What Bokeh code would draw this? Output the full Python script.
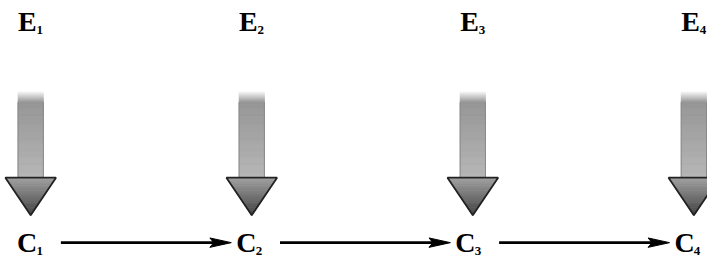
from bokeh.plotting import figure
from bokeh.models import Range1d
from bokeh.core.properties import value
from bokeh.embed import file_html
from bokeh.resources import INLINE

# ---- diagram content ----
effect_labels = ["E", "E", "E", "E"]
state_labels = ["C", "C", "C", "C"]
subscripts = ["1", "2", "3", "4"]

# ---- layout parameters ----
X0, STEP = 31, 227          # centres of the four columns
SHAFT_TOP, SHAFT_BOT, TIP = 97, 188, 228
SHAFT_HW, HEAD_HW = 13, 26
E_BASE, C_BASE, ARROW_Y = 33, 267, 257

p = figure(width=707, height=261, output_backend="svg", toolbar_location=None,
           x_range=Range1d(0, 726), y_range=Range1d(277, 0),
           min_border=0, background_fill_color="white", border_fill_color="white")
p.axis.visible = False
p.grid.visible = False
p.outline_line_color = None

def gray(v):
    v = int(max(0, min(255, v)))
    return "#%02x%02x%02x" % (v, v, v)

centres = [X0 + i * STEP for i in range(len(effect_labels))]

# vertical shaded arrows
for cx in centres:
    l, r, tp, bt, col = [], [], [], [], []
    for y in range(SHAFT_TOP, SHAFT_BOT):
        if y < 108:
            v = 245 - (245 - 150) * (y - SHAFT_TOP) / 11.0
        else:
            v = 150 + (182 - 150) * (y - 108) / 80.0
        l.append(cx - SHAFT_HW); r.append(cx + SHAFT_HW)
        tp.append(y); bt.append(y + 1); col.append(gray(v))
    p.quad(left=l, right=r, top=tp, bottom=bt, fill_color=col,
           line_color=col, line_width=0.8)
    p.segment(x0=[cx - SHAFT_HW, cx + SHAFT_HW], y0=[108, 108],
              x1=[cx - SHAFT_HW, cx + SHAFT_HW], y1=[SHAFT_BOT, SHAFT_BOT],
              line_color="#8a8a8a", line_width=1)
    xs, ys, hc = [], [], []
    n = 20
    H = TIP - SHAFT_BOT
    for k in range(n):
        ya = SHAFT_BOT + H * k / n
        yb = SHAFT_BOT + H * (k + 1) / n
        wa = HEAD_HW * (1 - k / n)
        wb = HEAD_HW * (1 - (k + 1) / n)
        xs.append([cx - wa, cx + wa, cx + wb, cx - wb])
        ys.append([ya, ya, yb, yb])
        hc.append(gray(160 - 95 * k / n))
    p.patches(xs, ys, fill_color=hc, line_color=hc, line_width=0.8)
    p.patch([cx - HEAD_HW, cx + HEAD_HW, cx], [SHAFT_BOT, SHAFT_BOT, TIP],
            fill_color=None, line_color="#222222", line_width=1.8)

font = value("Liberation Serif")

def label(xs, base, letters, sub_dx):
    p.text(x=xs, y=[base + 6] * 4, text=letters, text_font=font,
           text_font_style="bold", text_font_size="28px",
           text_baseline="bottom", text_align="left", text_color="black")
    p.text(x=[x + sub_dx for x in xs], y=[base + 3] * 4, text=subscripts,
           text_font=font, text_font_style="bold", text_font_size="13px",
           text_baseline="bottom", text_align="left", text_color="black")

ex = [cx - 13 for cx in centres]
label(ex, E_BASE, effect_labels, 19)

cxl = [cx - 14 - 2 * i for i, cx in enumerate(centres)]
label(cxl, C_BASE, state_labels, 20)

# horizontal arrows C_i -> C_{i+1}
starts = [cxl[i] + 45 for i in range(3)]
ends = [cxl[i + 1] - 5 for i in range(3)]
p.segment(x0=starts, y0=[ARROW_Y] * 3, x1=[e - 18 for e in ends], y1=[ARROW_Y] * 3,
          line_color="black", line_width=2.6)
p.patches([[e - 22, e, e - 22, e - 18] for e in ends],
          [[ARROW_Y - 5, ARROW_Y, ARROW_Y + 5, ARROW_Y] for _ in ends],
          fill_color="black", line_color="black", line_width=1)

open("out.html", "w").write(file_html(p, INLINE))
